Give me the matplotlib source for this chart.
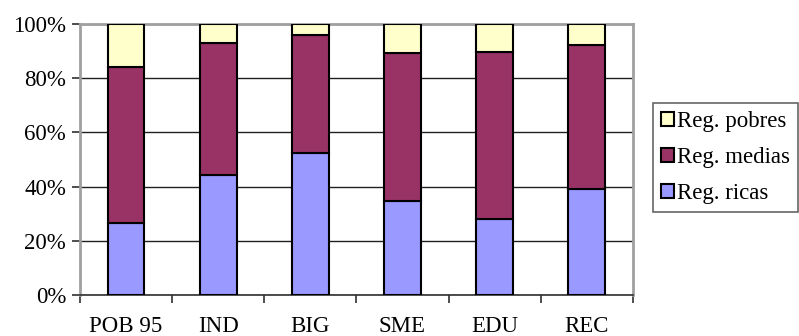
import numpy as np
import matplotlib
matplotlib.use("Agg")
import matplotlib.pyplot as plt
from matplotlib.ticker import FixedLocator, PercentFormatter

# shares per indicator (percent)
categories = ["POB 95", "IND", "BIG", "SME", "EDU", "REC"]
ricas = [26.6, 44.4, 52.5, 34.7, 28.1, 39.0]
medias = [57.4, 48.6, 43.3, 54.6, 61.5, 53.1]
pobres = [16.0, 7.0, 4.2, 10.7, 10.4, 7.9]

plt.rcParams["font.family"] = ["Liberation Serif", "DejaVu Serif"]
plt.rcParams["font.size"] = 16.5

fig = plt.figure(figsize=(7.99, 3.36), dpi=100)
ax = fig.add_axes([0.100, 0.122, 0.692, 0.807])

x = np.arange(len(categories))
w = 0.4
edge = dict(edgecolor="black", linewidth=1.5, width=w, zorder=3)
b1 = ax.bar(x, ricas, color="#9999FF", label="Reg. ricas", **edge)
b2 = ax.bar(x, medias, bottom=ricas, color="#993366", label="Reg. medias", **edge)
b3 = ax.bar(x, pobres, bottom=np.add(ricas, medias), color="#FFFFCC",
            label="Reg. pobres", **edge)

ax.set_xlim(-0.5, len(categories) - 0.5)
ax.set_ylim(0, 100)
ax.yaxis.set_major_locator(FixedLocator([0, 20, 40, 60, 80, 100]))
ax.yaxis.set_major_formatter(PercentFormatter(decimals=0))
ax.grid(axis="y", color="#202020", linewidth=1.0, zorder=0)

# category labels sit below, tick marks go between categories
ax.set_xticks(x)
ax.set_xticklabels(categories)
ax.tick_params(axis="x", which="major", length=0, pad=15)
ax.set_xticks(np.arange(-0.5, len(categories)), minor=True)
ax.tick_params(axis="x", which="minor", length=6, width=1.2, color="#303030")
ax.tick_params(axis="y", length=6, width=1.2, color="#303030", pad=4)

for s in ["left", "right", "top"]:
    ax.spines[s].set_color("#a0a0a0")
    ax.spines[s].set_linewidth(2)
ax.spines["bottom"].set_color("#303030")
ax.spines["bottom"].set_linewidth(1.2)

leg = ax.legend(handles=[b3, b2, b1], loc="upper left",
                bbox_to_anchor=(653 / 799, 1 - 103 / 336), bbox_transform=fig.transFigure,
                frameon=True, fancybox=False, handlelength=0.55, handleheight=0.55,
                handletextpad=0.15, labelspacing=0.65, borderpad=0.35,
                borderaxespad=0, fontsize=16.5)
leg.get_frame().set_edgecolor("#404040")
leg.get_frame().set_linewidth(1.2)

fig.savefig("out.png", dpi=100)
